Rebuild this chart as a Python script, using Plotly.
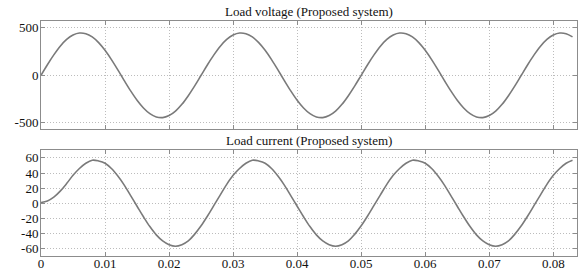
import plotly.graph_objects as go

# sample times (s)
time_s = [round(i * 0.001, 3) for i in range(84)]

# Load voltage (V)
voltage = [0, 111, 214, 305, 376, 423, 444, 437, 403, 343, 262, 164, 56, -56, -164, -262, -343, -403, -437, -444, -423, -376, -305, -214, -111,
           0, 111, 214, 305, 376, 423, 444, 437, 403, 343, 262, 164, 56, -56, -164, -262, -343, -403, -437, -444, -423, -376, -305, -214, -111,
           0, 111, 214, 305, 376, 423, 444, 437, 403, 343, 262, 164, 56, -56, -164, -262, -343, -403, -437, -444, -423, -376, -305, -214, -111,
           0, 111, 214, 305, 376, 423, 444, 437, 403]

# Load current (A)
current = [1, 3, 8, 16, 26, 37, 46, 53,
           57, 56, 53, 46, 36, 24, 10, -4, -18, -31, -42, -50, -55, -57, -55, -50, -41, -30, -17, -3, 11, 25, 37, 46, 53,
           57, 56, 53, 46, 36, 24, 10, -4, -18, -31, -42, -50, -55, -57, -55, -50, -41, -30, -17, -3, 11, 25, 37, 46, 53,
           57, 56, 53, 46, 36, 24, 10, -4, -18, -31, -42, -50, -55, -57, -55, -50, -41, -30, -17, -3, 11, 25, 37, 46, 53,
           57]

x_ticks = [0, 0.01, 0.02, 0.03, 0.04, 0.05, 0.06, 0.07, 0.08]
x_labels = ["0", "0.01", "0.02", "0.03", "0.04", "0.05", "0.06", "0.07", "0.08"]
v_ticks = [-500, 0, 500]
v_labels = ["-500", "0", "500"]
i_ticks = [-60, -40, -20, 0, 20, 40, 60]
i_labels = ["-60", "-40", "-20", "0", "20", "40", "60"]

titles = ["Load voltage (Proposed system)", "Load current (Proposed system)"]

FONT = "Liberation Serif, Times New Roman, serif"
LINE = "#7a7a7a"
AX = "#8c8c8c"
GRID = "#bcbcbc"

fig = go.Figure()
fig.add_trace(go.Scatter(x=time_s, y=voltage, mode="lines", line=dict(color=LINE, width=1.6, shape="spline"),
                         xaxis="x", yaxis="y", showlegend=False))
fig.add_trace(go.Scatter(x=time_s, y=current, mode="lines", line=dict(color=LINE, width=1.6, shape="spline"),
                         xaxis="x2", yaxis="y2", showlegend=False))

common_x = dict(range=[0, 0.0837], tickvals=x_ticks, showgrid=True, gridcolor=GRID, griddash="1px,2px", gridwidth=1,
                showline=True, linecolor=AX, linewidth=1, mirror="ticks", ticks="inside", ticklen=4,
                tickcolor=AX, zeroline=False, automargin=False,
                tickfont=dict(family=FONT, size=13, color="#111"))
common_y = dict(showgrid=True, gridcolor=GRID, griddash="1px,2px", gridwidth=1,
                showline=True, linecolor=AX, linewidth=1, mirror="ticks", ticks="inside", ticklen=4,
                tickcolor=AX, zeroline=False, automargin=False, ticklabelstandoff=-1,
                tickfont=dict(family=FONT, size=13, color="#111"))

fig.update_layout(
    width=578, height=270,
    margin=dict(l=41, r=1, t=21, b=14, autoexpand=False),
    paper_bgcolor="white", plot_bgcolor="white",
    xaxis=dict(common_x, domain=[0, 1], anchor="y", showticklabels=False),
    yaxis=dict(common_y, domain=[0.54, 1.0], anchor="x", range=[-565, 570], tickvals=v_ticks, ticktext=v_labels),
    xaxis2=dict(common_x, domain=[0, 1], anchor="y2", ticktext=x_labels, ticklabelstandoff=-5),
    yaxis2=dict(common_y, domain=[0.0, 0.451], anchor="x2", range=[-70, 70.5], tickvals=i_ticks, ticktext=i_labels),
)

fig.add_annotation(text=titles[0], xref="paper", yref="paper", x=0.5, y=1.0, yshift=0,
                   xanchor="center", yanchor="bottom", showarrow=False,
                   font=dict(family=FONT, size=13, color="#111"))
fig.add_annotation(text=titles[1], xref="paper", yref="paper", x=0.5, y=0.451, yshift=0,
                   xanchor="center", yanchor="bottom", showarrow=False,
                   font=dict(family=FONT, size=13, color="#111"))

fig.write_html("out.html", config={"displayModeBar": False},
               post_script="document.body.style.margin='0';document.body.style.overflow='hidden';")
